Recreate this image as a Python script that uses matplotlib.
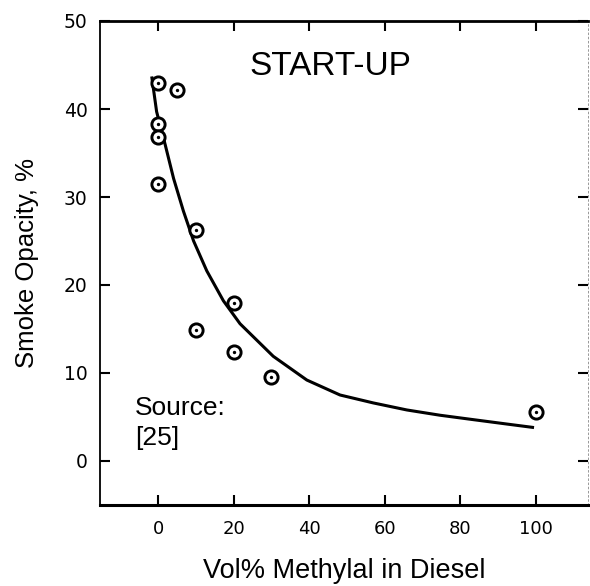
import matplotlib
matplotlib.use("Agg")
import matplotlib.pyplot as plt

# Measured data points (Vol% methylal, smoke opacity %)
vol_pct = [0, 5, 0, 0, 0, 10, 20, 10, 20, 30, 100]
opacity = [42.9, 42.2, 38.3, 36.8, 31.5, 26.3, 17.9, 14.9, 12.4, 9.6, 5.6]

# Fitted curve
curve_x = [-1.7, -0.4, 1.9, 4.1, 6.7, 9.4, 12.9, 17.3, 21.7, 30.5, 39.4,
           48.2, 57.0, 65.9, 74.7, 83.5, 92.4, 99.6]
curve_y = [43.7, 39.7, 35.9, 32.1, 28.4, 25.0, 21.6, 18.2, 15.6, 11.9, 9.2,
           7.5, 6.6, 5.8, 5.2, 4.7, 4.2, 3.8]

x_ticks = [0, 20, 40, 60, 80, 100]
y_ticks = [0, 10, 20, 30, 40, 50]

title_text = "START-UP"
source_text = "Source:\n[25]"
x_label = "Vol% Methylal in Diesel"
y_label = "Smoke Opacity, %"

plt.rcParams['font.family'] = ['Liberation Sans', 'DejaVu Sans']

fig = plt.figure(figsize=(5.9, 5.86), dpi=100)
ax = fig.add_axes([100/590, 81/586, 488/590, 484/586])

ax.plot(curve_x, curve_y, color='black', lw=2.2, solid_capstyle='butt')
ax.plot(vol_pct, opacity, linestyle='none', marker='o', markersize=9.5,
        markerfacecolor='white', markeredgecolor='black', markeredgewidth=2.1)
ax.plot(vol_pct, opacity, linestyle='none', marker='o', markersize=1.4,
        color='black')

ax.set_xlim(-15.4, 113.9)
ax.set_ylim(-5, 50)
ax.set_xticks(x_ticks)
ax.set_yticks(y_ticks)
ax.set_xticklabels([str(v) for v in x_ticks], family='DejaVu Sans', fontsize=13)
ax.set_yticklabels([str(v) for v in y_ticks], family='DejaVu Sans', fontsize=13.5)

ax.tick_params(axis='both', direction='in', length=7, width=1.5,
               top=True, right=True, color='black')
ax.tick_params(axis='x', pad=11)
ax.tick_params(axis='y', pad=9)

for side, lw in [('left', 1.3), ('bottom', 2.2), ('top', 2.0), ('right', 0.6)]:
    ax.spines[side].set_linewidth(lw)
    ax.spines[side].set_color('black')
ax.spines['right'].set_color('#888888')
ax.spines['right'].set_linestyle((0, (2, 3)))

ax.set_xlabel(x_label, fontsize=19.5, labelpad=14)
ax.set_ylabel(y_label, fontsize=18.5, labelpad=18)

ax.text(0.307, 0.905, title_text, transform=ax.transAxes, fontsize=24,
        ha='left', va='center')
ax.text(0.072, 0.225, source_text, transform=ax.transAxes, fontsize=19,
        ha='left', va='top', linespacing=1.3)

fig.savefig("out.png", dpi=100, facecolor='white')
